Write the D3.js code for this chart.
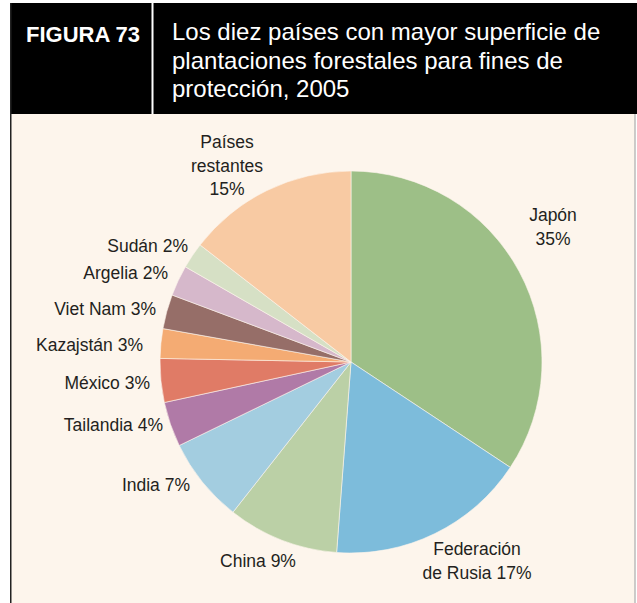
<!DOCTYPE html>
<html>
<head>
<meta charset="utf-8">
<script src="https://cdn.jsdelivr.net/npm/d3@7"></script>
<style>
  html, body { margin: 0; padding: 0; background: #fff; }
  svg { display: block; }
  text { font-family: "Liberation Sans", Arial, sans-serif; }
</style>
</head>
<body>
<svg id="chart"></svg>
<script>
// slice order: clockwise from 12 o'clock
var countries = ['Japón', 'Federación de Rusia', 'China', 'India', 'Tailandia', 'México',
  'Kazajstán', 'Viet Nam', 'Argelia', 'Sudán', 'Países restantes']
var shares = [34.3, 16.9, 9.4, 7.2, 3.8, 3.7, 2.5, 2.9, 2.6, 2.2, 14.5]
var colors = ['#9dbf87', '#7dbcdb', '#bbd0a6', '#a3cde0', '#b07aa7', '#e07b66',
  '#f4ab73', '#966e68', '#d6b8cb', '#d6e0c5', '#f8caa3']
var labels = [['Japón', '35%'], ['Federación', 'de Rusia 17%'], ['China 9%'], ['India 7%'],
  ['Tailandia 4%'], ['México 3%'], ['Kazajstán 3%'], ['Viet Nam 3%'], ['Argelia 2%'],
  ['Sudán 2%'], ['Países', 'restantes', '15%']]
var titleLines = ['Los diez países con mayor superficie de',
  'plantaciones forestales para fines de', 'protección, 2005']

var width = 637
var height = 603

var svg = d3.select('#chart')
  .attr('width', width)
  .attr('height', height)

// panel + header
svg.append('rect').attr('x', 0).attr('y', 0).attr('width', width).attr('height', height).attr('fill', '#fff')
svg.append('rect').attr('x', 10).attr('y', 3).attr('width', 625).attr('height', 600).attr('fill', '#fdf5ec')
svg.append('rect').attr('x', 10).attr('y', 3).attr('width', 627).attr('height', 111).attr('fill', '#000')
svg.append('line').attr('x1', 10.75).attr('x2', 10.75).attr('y1', 3).attr('y2', 603)
  .attr('stroke', '#222').attr('stroke-width', 1.5)
svg.append('line').attr('x1', 635).attr('x2', 635).attr('y1', 114).attr('y2', 603)
  .attr('stroke', '#bbb').attr('stroke-width', 1.5)
svg.append('rect').attr('x', 151.5).attr('y', 3).attr('width', 2).attr('height', 111).attr('fill', '#fff')

svg.append('text')
  .attr('x', 26).attr('y', 42)
  .attr('fill', '#fff')
  .style('font-size', '22px').style('font-weight', 'bold')
  .text('FIGURA 73')

svg.append('g').selectAll('text')
  .data(titleLines)
  .enter().append('text')
  .attr('x', 172)
  .attr('y', function (d, i) { return 40 + i * 28.5 })
  .attr('fill', '#fff')
  .style('font-size', '24px')
  .text(function (d) { return d })

// pie
var cx = 351
var cy = 362
var radius = 191

var pie = d3.pie().sort(null).value(function (d) { return d })
var arc = d3.arc().innerRadius(0).outerRadius(radius)

var g = svg.append('g').attr('transform', 'translate(' + cx + ',' + cy + ')')

g.selectAll('path')
  .data(pie(shares))
  .enter().append('path')
  .attr('d', arc)
  .attr('fill', function (d, i) { return colors[i] })
  .attr('stroke', '#fdf5ec')
  .attr('stroke-width', 0.6)

// label anchor points (x, first line centre y, text-anchor)
var labelPos = [
  [553, 215, 'middle'], [477, 549, 'middle'], [258, 561, 'middle'], [190, 485, 'end'],
  [163, 425, 'end'], [150, 383, 'end'], [143, 345, 'end'], [156, 309, 'end'],
  [168, 273, 'end'], [188, 246, 'end'], [227, 142, 'middle']
]

var lg = svg.append('g')
labels.forEach(function (lines, i) {
  var p = labelPos[i]
  var t = lg.append('text')
    .attr('text-anchor', p[2])
    .attr('fill', '#231f20')
    .style('font-size', '17.5px')
  lines.forEach(function (s, j) {
    t.append('tspan')
      .attr('x', p[0])
      .attr('y', p[1] + j * 23.5 + 6)
      .text(s)
  })
})
</script>
</body>
</html>
